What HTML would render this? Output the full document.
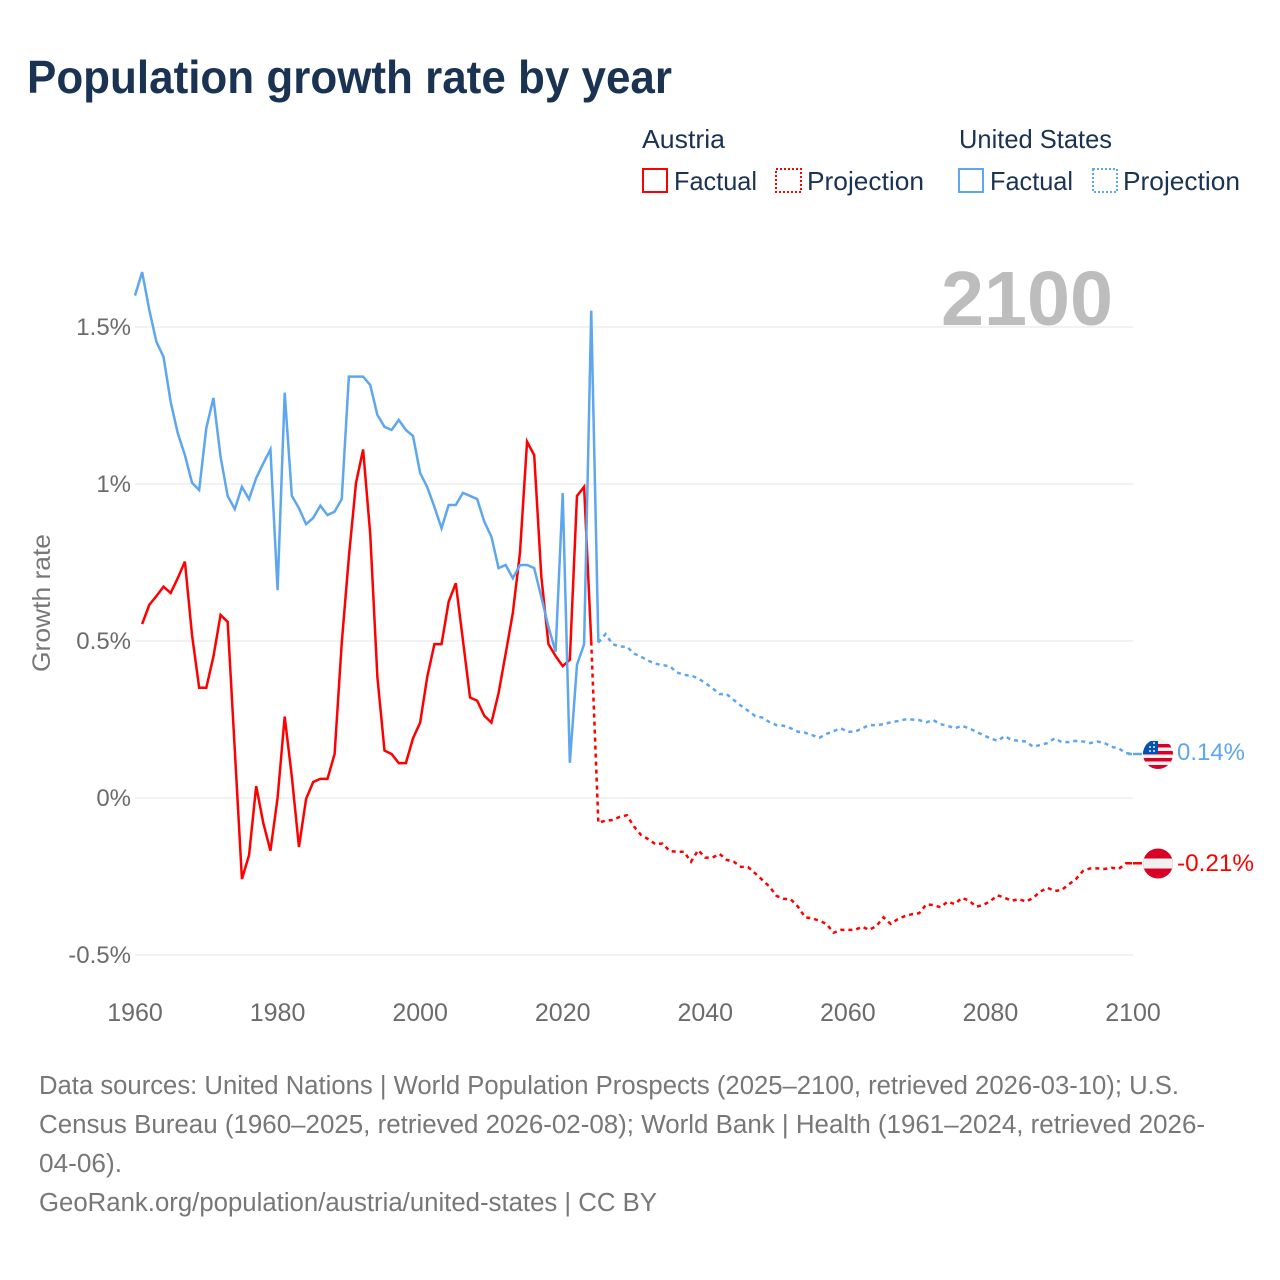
<!DOCTYPE html>
<html lang="en">
<head>
<meta charset="utf-8">
<title>Population growth rate by year</title>
<style>
html,body{margin:0;padding:0;background:#fff;width:1280px;height:1280px;overflow:hidden}
svg{display:block;font-family:"Liberation Sans",sans-serif}
</style>
</head>
<body>
<svg id="chart" width="1280" height="1280" viewBox="0 0 1280 1280" xmlns="http://www.w3.org/2000/svg">
  <rect width="1280" height="1280" fill="#fff"/>
  <text x="27" y="93" font-size="46" font-weight="700" fill="#1b3352" textLength="645" lengthAdjust="spacingAndGlyphs">Population growth rate by year</text>

  <g font-size="26" fill="#1b3352">
    <text x="642" y="148" textLength="83" lengthAdjust="spacingAndGlyphs">Austria</text>
    <text x="959" y="148" textLength="153" lengthAdjust="spacingAndGlyphs">United States</text>
    <rect x="643" y="169" width="24" height="23" fill="none" stroke="#ff0000" stroke-width="2"/>
    <text x="674" y="190" textLength="83" lengthAdjust="spacingAndGlyphs">Factual</text>
    <rect x="776" y="169" width="25" height="23" fill="none" stroke="#ff0000" stroke-width="2" stroke-dasharray="2 2"/>
    <text x="807" y="190" textLength="117" lengthAdjust="spacingAndGlyphs">Projection</text>
    <rect x="959" y="169" width="24" height="23" fill="none" stroke="#5ea6ee" stroke-width="2"/>
    <text x="990" y="190" textLength="83" lengthAdjust="spacingAndGlyphs">Factual</text>
    <rect x="1093" y="169" width="24" height="23" fill="none" stroke="#5ea6ee" stroke-width="2" stroke-dasharray="2 2"/>
    <text x="1123" y="190" textLength="117" lengthAdjust="spacingAndGlyphs">Projection</text>
  </g>

  <g id="grid"></g>
  <text x="941" y="325" font-size="77" font-weight="700" fill="#bdbdbd" textLength="172" lengthAdjust="spacingAndGlyphs">2100</text>
  <g id="yTicks" font-size="24" fill="#6b6b6b" text-anchor="end"></g>
  <g id="xTicks" font-size="25" fill="#6b6b6b" text-anchor="middle"></g>
  <text transform="translate(50,603) rotate(-90)" font-size="25" fill="#777" text-anchor="middle" textLength="138" lengthAdjust="spacingAndGlyphs">Growth rate</text>
  <g id="series"></g>

  <g>
    <clipPath id="usClip"><circle cx="1158" cy="754" r="15"/></clipPath>
    <g clip-path="url(#usClip)">
      <rect x="1143" y="739" width="30" height="30" fill="#f0f0f0"/>
      <rect x="1143" y="744" width="30" height="3.5" fill="#d80027"/>
      <rect x="1143" y="751" width="30" height="3.5" fill="#d80027"/>
      <rect x="1143" y="758" width="30" height="3.5" fill="#d80027"/>
      <rect x="1143" y="765" width="30" height="4" fill="#d80027"/>
      <rect x="1143" y="741" width="15" height="13" fill="#0052b4"/>
      <g fill="#f0f0f0">
        <circle cx="1150" cy="747" r="1"/><circle cx="1154" cy="747" r="1"/><circle cx="1150" cy="751" r="1"/><circle cx="1154" cy="751" r="1"/><circle cx="1154" cy="743" r="1"/>
      </g>
    </g>
  </g>
  <g>
    <clipPath id="atClip"><circle cx="1158" cy="863.5" r="15"/></clipPath>
    <g clip-path="url(#atClip)">
      <rect x="1143" y="848" width="30" height="31" fill="#d80027"/>
      <rect x="1143" y="858.5" width="30" height="10" fill="#f0f0f0"/>
    </g>
  </g>
  <text x="1177" y="760" font-size="24" fill="#5ea6ee" textLength="68" lengthAdjust="spacingAndGlyphs">0.14%</text>
  <text x="1177" y="871" font-size="24" fill="#ff0000" textLength="77" lengthAdjust="spacingAndGlyphs">-0.21%</text>

  <g font-size="25.5" fill="#777">
    <text x="39" y="1094" textLength="1140" lengthAdjust="spacingAndGlyphs">Data sources: United Nations | World Population Prospects (2025–2100, retrieved 2026-03-10); U.S.</text>
    <text x="39" y="1133" textLength="1166" lengthAdjust="spacingAndGlyphs">Census Bureau (1960–2025, retrieved 2026-02-08); World Bank | Health (1961–2024, retrieved 2026-</text>
    <text x="39" y="1172" textLength="83" lengthAdjust="spacingAndGlyphs">04-06).</text>
    <text x="39" y="1211" textLength="618" lengthAdjust="spacingAndGlyphs">GeoRank.org/population/austria/united-states | CC BY</text>
  </g>
</svg>
<script>
// Tick values and labels
const yTickValues = [1.5, 1, 0.5, 0, -0.5];
const yTickLabels = ['1.5%', '1%', '0.5%', '0%', '-0.5%'];
const xTickYears = [1960, 1980, 2000, 2020, 2040, 2060, 2080, 2100];
const xTickLabels = ['1960', '1980', '2000', '2020', '2040', '2060', '2080', '2100'];

// United States: factual 1960-2025
const usFactualStart = 1960;
const usFactual = [1.6,1.675,1.555,1.453,1.405,1.262,1.162,1.092,1.004,0.981,1.178,1.274,1.087,0.962,0.92,0.991,0.952,1.019,1.066,1.11,0.662,1.291,0.962,0.923,0.872,0.892,0.931,0.901,0.912,0.952,1.342,1.342,1.342,1.315,1.22,1.182,1.172,1.204,1.172,1.153,1.035,0.99,0.927,0.859,0.933,0.933,0.972,0.962,0.952,0.88,0.832,0.732,0.742,0.7,0.742,0.742,0.732,0.64,0.545,0.466,0.971,0.112,0.424,0.49,1.552,0.495];
// United States: projection 2025-2100
const usProjectionStart = 2025;
const usProjection = [0.495,0.522,0.49,0.482,0.482,0.46,0.45,0.437,0.428,0.423,0.42,0.4,0.392,0.39,0.381,0.366,0.35,0.331,0.331,0.312,0.294,0.278,0.261,0.256,0.242,0.232,0.23,0.222,0.211,0.208,0.2,0.192,0.204,0.213,0.222,0.211,0.211,0.222,0.232,0.232,0.235,0.241,0.245,0.25,0.25,0.248,0.241,0.248,0.235,0.23,0.222,0.23,0.222,0.211,0.2,0.19,0.182,0.197,0.185,0.182,0.18,0.163,0.169,0.175,0.19,0.178,0.178,0.182,0.18,0.175,0.18,0.175,0.163,0.158,0.143,0.14];
// Austria: factual 1961-2024
const atFactualStart = 1961;
const atFactual = [0.554,0.615,0.643,0.673,0.653,0.7,0.753,0.519,0.351,0.351,0.45,0.583,0.561,0.153,-0.258,-0.182,0.038,-0.08,-0.168,0,0.259,0.068,-0.156,-0.003,0.051,0.061,0.061,0.14,0.493,0.767,1.003,1.11,0.84,0.386,0.151,0.14,0.111,0.111,0.19,0.24,0.386,0.49,0.49,0.625,0.684,0.503,0.32,0.31,0.262,0.24,0.334,0.46,0.589,0.78,1.135,1.092,0.705,0.49,0.452,0.42,0.44,0.962,0.991,0.498];
// Austria: projection 2024-2100
const atProjectionStart = 2024;
const atProjection = [0.498,-0.079,-0.072,-0.07,-0.06,-0.055,-0.091,-0.118,-0.131,-0.147,-0.145,-0.169,-0.171,-0.171,-0.203,-0.166,-0.19,-0.19,-0.178,-0.197,-0.203,-0.219,-0.22,-0.24,-0.261,-0.282,-0.312,-0.321,-0.323,-0.346,-0.38,-0.383,-0.391,-0.401,-0.429,-0.42,-0.42,-0.42,-0.41,-0.42,-0.408,-0.38,-0.401,-0.386,-0.376,-0.37,-0.367,-0.339,-0.341,-0.348,-0.33,-0.338,-0.318,-0.327,-0.346,-0.341,-0.328,-0.31,-0.318,-0.327,-0.322,-0.33,-0.318,-0.298,-0.286,-0.296,-0.293,-0.275,-0.258,-0.232,-0.224,-0.224,-0.226,-0.222,-0.226,-0.208,-0.208];

const NS = 'http://www.w3.org/2000/svg';
const xAxisMin = 1960, xAxisMax = 2100;
const plotLeft = 135, plotRight = 1133, zeroY = 798, pxPerUnit = 314;
function xScale(year) { return plotLeft + (year - xAxisMin) * (plotRight - plotLeft) / (xAxisMax - xAxisMin); }
function yScale(v) { return zeroY - v * pxPerUnit; }

const grid = document.getElementById('grid');
const yTicks = document.getElementById('yTicks');
const xTicks = document.getElementById('xTicks');
const series = document.getElementById('series');

yTickValues.forEach(function (v, i) {
  const line = document.createElementNS(NS, 'line');
  
  
  line.setAttribute('x1', plotLeft);
  line.setAttribute('x2', plotRight);
  line.setAttribute('y1', yScale(v));
  line.setAttribute('y2', yScale(v));
  line.setAttribute('stroke', '#eeeeee');
  line.setAttribute('stroke-width', '1.5');
  grid.appendChild(line);
  const t = document.createElementNS(NS, 'text');
  
  
  t.setAttribute('x', 131);
  t.setAttribute('y', yScale(v) + 8);
  t.textContent = yTickLabels[i];
  yTicks.appendChild(t);
});

xTickYears.forEach(function (yr, i) {
  const t = document.createElementNS(NS, 'text');
  
  
  t.setAttribute('x', xScale(yr));
  t.setAttribute('y', 1021);
  t.textContent = xTickLabels[i];
  xTicks.appendChild(t);
});

function drawLine(values, startYear, color, dash, name) {
  const p = document.createElementNS(NS, 'polyline');
  
  
  const pts = values.map(function (v, i) { return xScale(startYear + i).toFixed(2) + ',' + yScale(v).toFixed(2); });
  p.setAttribute('points', pts.join(' '));
  p.setAttribute('fill', 'none');
  p.setAttribute('stroke', color);
  p.setAttribute('stroke-width', '2.5');
  p.setAttribute('stroke-linejoin', 'miter');
  if (dash) p.setAttribute('stroke-dasharray', dash);
  series.appendChild(p);
}
function drawConnector(lastValue, color, name) {
  const l = document.createElementNS(NS, 'line');
  
  
  l.setAttribute('x1', plotRight - 5);
  l.setAttribute('x2', plotRight + 10);
  l.setAttribute('y1', yScale(lastValue));
  l.setAttribute('y2', yScale(lastValue));
  l.setAttribute('stroke', color);
  l.setAttribute('stroke-width', '2.5');
  l.setAttribute('stroke-dasharray', '4 1 9');
  series.appendChild(l);
}

drawLine(atFactual, atFactualStart, '#ff0000', null, 'line-austria-factual');
drawLine(atProjection, atProjectionStart, '#ff0000', '4 4', 'line-austria-projection');
drawLine(usFactual, usFactualStart, '#5ea6ee', null, 'line-us-factual');
drawLine(usProjection, usProjectionStart, '#5ea6ee', '4 4', 'line-us-projection');
drawConnector(atProjection[atProjection.length - 1], '#ff0000', 'connector-austria');
drawConnector(usProjection[usProjection.length - 1], '#5ea6ee', 'connector-us');
</script>
</body>
</html>
